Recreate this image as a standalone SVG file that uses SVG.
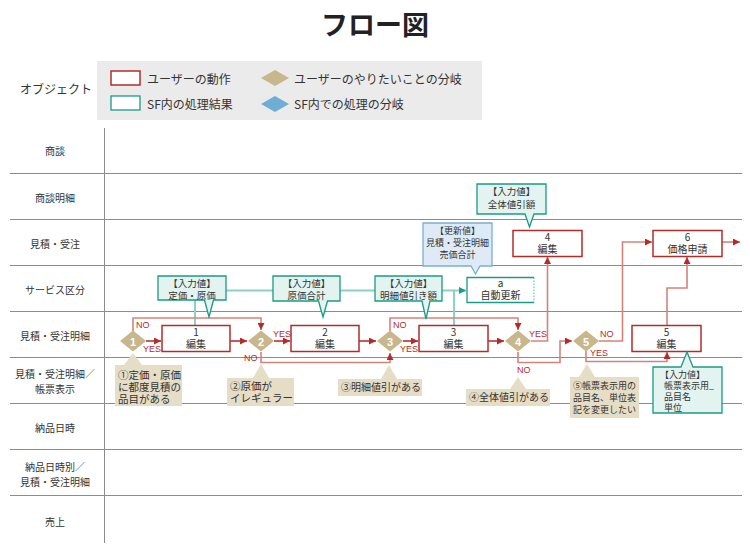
<svg xmlns="http://www.w3.org/2000/svg" width="750" height="555" viewBox="0 0 750 555">
<style>
text{font-family:"Noto Sans CJK JP","Noto Sans",sans-serif;fill:#333}
.lane{font-size:10px;text-anchor:middle;dominant-baseline:central}
.leg{font-size:12px;dominant-baseline:central}
.nt{font-size:10px;text-anchor:middle}
.ct{font-size:9.5px;text-anchor:middle}
.nn{font-size:10.5px}
.lbl{font-family:"Liberation Sans",Arial,sans-serif;font-size:9px;fill:#b22d2a}
.dn{font-family:"Liberation Sans",Arial,sans-serif;font-size:11px;fill:#fff;text-anchor:middle;dominant-baseline:central;font-weight:bold}
.grid{stroke:#8c8c8c;stroke-width:1}
.act{fill:#fff;stroke:#b22d2a;stroke-width:1.5}
.sf{fill:#e3f3f0;stroke:#1b9a87;stroke-width:1.3}
.upd{fill:#deebf6;stroke:#7aaed3;stroke-width:1.3}
.note{fill:#e6ddc6}
.dia{fill:#c8b68c}
.fl{fill:none;stroke:#d4837b;stroke-width:1.6}
.fd{fill:none;stroke:#b8332e;stroke-width:1.6}
.tl{fill:none;stroke:#8fd0c5;stroke-width:2}
</style>
<defs>
<marker id="ar" viewBox="0 0 8 8" refX="8" refY="4" markerWidth="7" markerHeight="7" markerUnits="userSpaceOnUse" orient="auto"><path d="M0,0 L8,4 L0,8 z" fill="#b22d2a"/></marker>
<marker id="at" viewBox="0 0 8 8" refX="8" refY="4" markerWidth="7" markerHeight="7" markerUnits="userSpaceOnUse" orient="auto"><path d="M0,0 L8,4 L0,8 z" fill="#1b9a87"/></marker>
</defs>

<text x="375" y="35" style="font-size:27px;font-weight:bold;text-anchor:middle;fill:#222">フロー図</text>

<g id="legend">
<text x="20" y="88" style="font-size:12px;dominant-baseline:central">オブジェクト</text>
<rect x="97" y="61" width="385" height="59" fill="#ebebeb"/>
<rect x="111" y="71" width="29" height="14" class="act"/>
<text x="147" y="78" class="leg">ユーザーの動作</text>
<rect x="111" y="96" width="29" height="14" class="sf" style="fill:#fff"/>
<text x="147" y="103" class="leg">SF内の処理結果</text>
<polygon points="261,78 275,70 289,78 275,86" class="dia"/>
<text x="294" y="78" class="leg">ユーザーのやりたいことの分岐</text>
<polygon points="261,104 275,96 289,104 275,112" fill="#6eaed4"/>
<text x="294" y="103" class="leg">SF内での処理の分岐</text>
</g>

<g id="lanes">
<line x1="104.5" y1="128" x2="104.5" y2="543" class="grid"/>
<line x1="10" y1="173.5" x2="742" y2="173.5" class="grid"/>
<line x1="10" y1="219.5" x2="742" y2="219.5" class="grid"/>
<line x1="10" y1="265.5" x2="742" y2="265.5" class="grid"/>
<line x1="10" y1="311.5" x2="742" y2="311.5" class="grid"/>
<line x1="10" y1="357.5" x2="742" y2="357.5" class="grid"/>
<line x1="10" y1="403.5" x2="742" y2="403.5" class="grid"/>
<line x1="10" y1="449.5" x2="742" y2="449.5" class="grid"/>
<line x1="10" y1="495.5" x2="742" y2="495.5" class="grid"/>
<text x="55" y="150" class="lane">商談</text>
<text x="55" y="197" class="lane">商談明細</text>
<text x="55" y="243" class="lane">見積・受注</text>
<text x="55" y="289" class="lane">サービス区分</text>
<text x="55" y="335" class="lane">見積・受注明細</text>
<text x="55" y="373" class="lane">見積・受注明細／</text>
<text x="55" y="388" class="lane">帳票表示</text>
<text x="55" y="427" class="lane">納品日時</text>
<text x="55" y="466" class="lane">納品日時別／</text>
<text x="55" y="481" class="lane">見積・受注明細</text>
<text x="55" y="521" class="lane">売上</text>
</g>

<g id="connectors">
<path d="M226,290.5 H466" class="tl" marker-end="url(#at)"/>
<path d="M195,300 V325" class="tl"/>
<path d="M454,291 V325" class="tl"/>
<path d="M146,341 H161" class="fd" marker-end="url(#ar)"/>
<path d="M133,331 V318 H261 V330" class="fl" marker-end="url(#ar)"/>
<path d="M230,341 H247" class="fd" marker-end="url(#ar)"/>
<path d="M274,341 H290" class="fd" marker-end="url(#ar)"/>
<path d="M261,352 V362.5 H390 V353" class="fl" marker-end="url(#ar)"/>
<path d="M359,341 H376" class="fd" marker-end="url(#ar)"/>
<path d="M403,341 H418" class="fd" marker-end="url(#ar)"/>
<path d="M390,331 V318 H518 V330" class="fl" marker-end="url(#ar)"/>
<path d="M488,341 H504" class="fd" marker-end="url(#ar)"/>
<path d="M531,341 H547.5 V257" class="fl" marker-end="url(#ar)"/>
<path d="M518,352 V362.5 H560 V341 H572" class="fl" marker-end="url(#ar)"/>
<path d="M599,341 H622.5 V242 H652" class="fl" marker-end="url(#ar)"/>
<path d="M586,351 V361.5 H667 V352" class="fl" marker-end="url(#ar)"/>
<path d="M667,325 V288 H687 V257" class="fl" marker-end="url(#ar)"/>
<path d="M722,242 H740" class="fl" marker-end="url(#ar)"/>
<text x="136" y="328" class="lbl">NO</text>
<text x="143" y="352" class="lbl">YES</text>
<text x="273" y="337" class="lbl">YES</text>
<text x="244" y="361" class="lbl">NO</text>
<text x="393" y="328" class="lbl">NO</text>
<text x="400" y="352" class="lbl">YES</text>
<text x="529" y="337" class="lbl">YES</text>
<text x="517" y="373" class="lbl">NO</text>
<text x="600" y="337" class="lbl">NO</text>
<text x="590" y="356" class="lbl">YES</text>
</g>

<g id="node1"><rect x="162" y="325.5" width="68" height="26" class="act"/><text x="196" y="336" class="nt">1</text><text x="196" y="348" class="nt">編集</text></g>
<g id="node2"><rect x="291" y="325.5" width="68" height="26" class="act"/><text x="325" y="336" class="nt">2</text><text x="325" y="348" class="nt">編集</text></g>
<g id="node3"><rect x="419" y="325.5" width="69" height="26" class="act"/><text x="453.5" y="336" class="nt">3</text><text x="453.5" y="348" class="nt">編集</text></g>
<g id="node4"><rect x="513" y="230.5" width="69" height="26" class="act"/><text x="547.5" y="241" class="nt">4</text><text x="547.5" y="253" class="nt">編集</text></g>
<g id="node5"><rect x="632" y="325.5" width="69" height="26" class="act"/><text x="666.5" y="336" class="nt">5</text><text x="666.5" y="348" class="nt">編集</text></g>
<g id="node6"><rect x="653" y="230.5" width="69" height="26" class="act"/><text x="687.5" y="241" class="nt">6</text><text x="687.5" y="253" class="nt">価格申請</text></g>
<g id="nodeA"><rect x="467" y="277.5" width="67" height="25" fill="#fff"/><path d="M534,277.5 H467 V302.5 H534" fill="none" stroke="#1b9a87" stroke-width="1.3"/><line x1="534" y1="277.5" x2="534" y2="302.5" stroke="#3fb3c9" stroke-width="1" stroke-dasharray="1.5,1.5"/><text x="500.5" y="287" class="nt">a</text><text x="500.5" y="299" class="nt">自動更新</text></g>

<g id="d1"><polygon points="120,341 133,330.5 146,341 133,351.5" class="dia"/><text x="133" y="341.5" class="dn">1</text></g>
<g id="d2"><polygon points="248,341 261,330.5 274,341 261,351.5" class="dia"/><text x="261" y="341.5" class="dn">2</text></g>
<g id="d3"><polygon points="377,341 390,330.5 403,341 390,351.5" class="dia"/><text x="390" y="341.5" class="dn">3</text></g>
<g id="d4"><polygon points="505,341 518,330.5 531,341 518,351.5" class="dia"/><text x="518" y="341.5" class="dn">4</text></g>
<g id="d5"><polygon points="573,341 586,330.5 599,341 586,351.5" class="dia"/><text x="586" y="341.5" class="dn">5</text></g>

<g id="inA"><path d="M158,276 H226 V300 H213.5 L209,317 L204.5,300 H158 Z" class="sf"/><text x="192" y="287" class="ct">【入力値】</text><text x="192" y="299" class="ct">定価・原価</text></g>
<g id="inB"><path d="M273,276 H340 V301 H327.5 L323,317 L318.5,301 H273 Z" class="sf"/><text x="306.5" y="287" class="ct">【入力値】</text><text x="306.5" y="299" class="ct">原価合計</text></g>
<g id="inC"><path d="M375,276 H442 V301 H430 L426,319 L422,301 H375 Z" class="sf"/><text x="408.5" y="287" class="ct">【入力値】</text><text x="408.5" y="299" class="ct">明細値引き額</text></g>
<g id="inD"><path d="M477,184 H546 V214 H534 L529.5,227 L525,214 H477 Z" class="sf"/><text x="511.5" y="195" class="ct">【入力値】</text><text x="511.5" y="208" class="ct">全体値引額</text></g>
<g id="upE"><path d="M423,223 H492 V266 H480 L475.5,274 L471,266 H423 Z" class="upd"/><text x="457.5" y="234" class="ct" style="font-size:9px">【更新値】</text><text x="457.5" y="246" class="ct" style="font-size:9px">見積・受注明細</text><text x="457.5" y="258" class="ct" style="font-size:9px">売価合計</text></g>
<g id="inF"><path d="M653,367 H681 L687,352 L693,367 H722 V413 H653 Z" class="sf"/><text x="660" y="378" class="ct" style="text-anchor:start;font-size:9px">【入力値】</text><text x="664" y="389" class="ct" style="text-anchor:start;font-size:9px">帳票表示用_</text><text x="664" y="400" class="ct" style="text-anchor:start;font-size:9px">品目名</text><text x="664" y="411" class="ct" style="text-anchor:start;font-size:9px">単位</text></g>

<g id="note1"><path d="M115,365 H124 L133,353 L142,365 H182 V406 H115 Z" class="note"/><text x="118" y="379" class="nn">①定価・原価</text><text x="118" y="391" class="nn">に都度見積の</text><text x="118" y="403" class="nn">品目がある</text></g>
<g id="note2"><path d="M227,378 H253 L261,364 L269,378 H294 V406 H227 Z" class="note"/><text x="230" y="390" class="nn">②原価が</text><text x="230" y="402" class="nn">イレギュラー</text></g>
<g id="note3"><path d="M338,379 H381 L389,365 L397,379 H422 V396 H338 Z" class="note"/><text x="341" y="391" class="nn" style="font-size:10px">③明細値引がある</text></g>
<g id="note4"><path d="M466,389 H510 L518,377 L526,389 H550 V406 H466 Z" class="note"/><text x="469" y="401" class="nn" style="font-size:10px">④全体値引がある</text></g>
<g id="note5"><path d="M570,377 H579 L587,364 L595,377 H639 V418 H570 Z" class="note"/><text x="573" y="389" class="nn" style="font-size:9px">⑤帳票表示用の</text><text x="573" y="401" class="nn" style="font-size:9px">品目名、単位表</text><text x="573" y="413" class="nn" style="font-size:9px">記を変更したい</text></g>
</svg>
